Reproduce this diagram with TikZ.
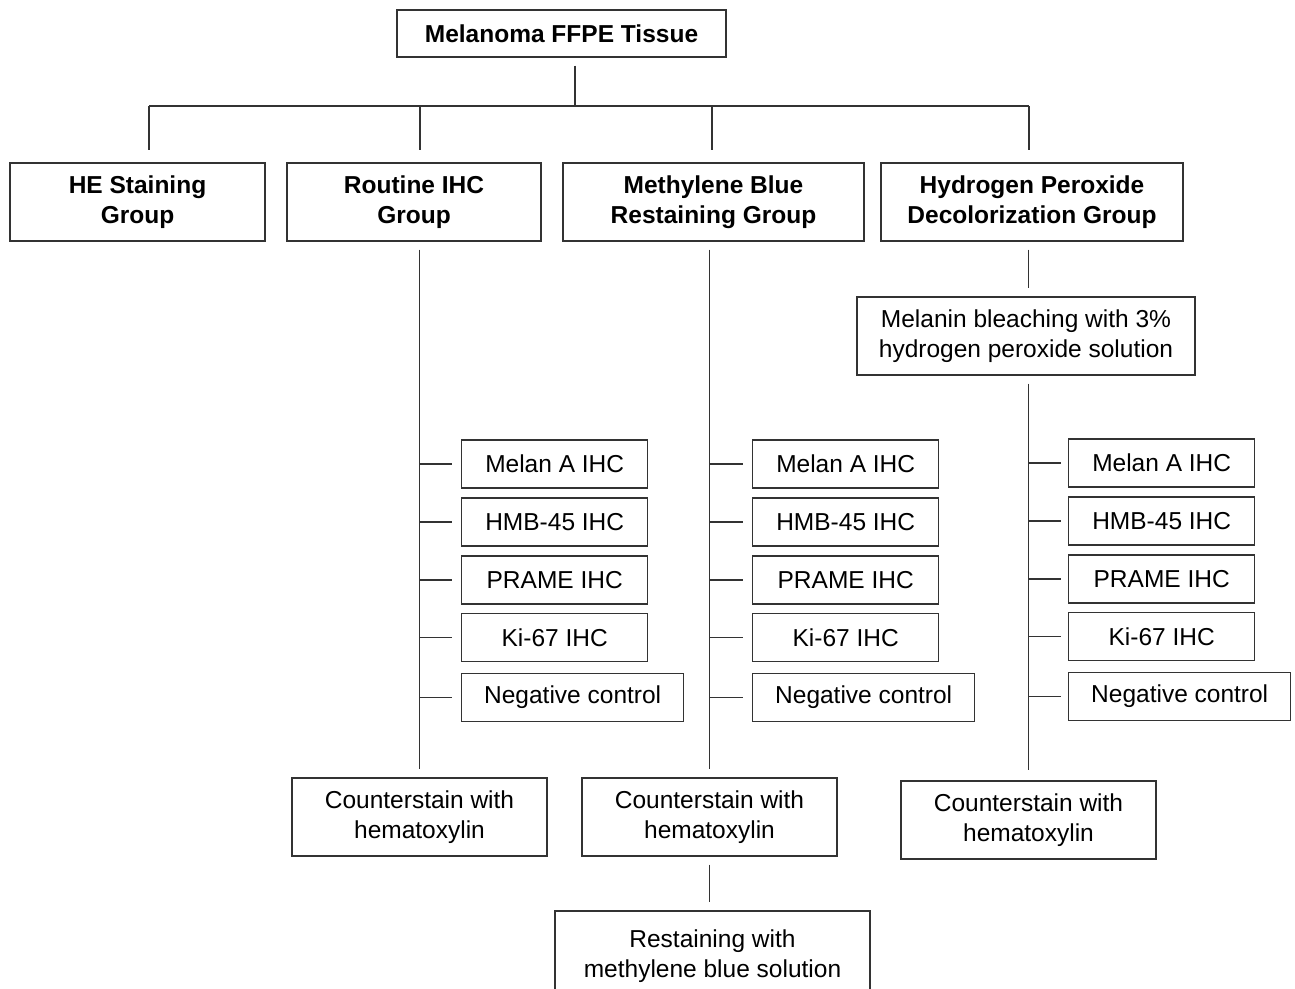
\documentclass[tikz,border=0pt]{standalone}
\usepackage{fontspec}
\setmainfont{Liberation Sans}
\usetikzlibrary{positioning}
\definecolor{ink}{HTML}{333333}
\tikzset{
  box/.style={draw=ink, line width=1.4pt, align=center, inner sep=0pt,
    font=\fontsize{24.5}{30}\selectfont},
  groupbox/.style={box, minimum height=78pt, font=\fontsize{24.5}{30}\selectfont\bfseries},
  stepbox/.style={box, minimum height=78pt},
  testbox/.style={box, anchor=west, minimum width=186pt, minimum height=48pt},
  link/.style={draw=ink, line width=1.4pt, shorten <=8pt, shorten >=8pt},
}
\begin{document}
\begin{tikzpicture}[x=1pt,y=-1pt]
    \useasboundingbox[fill=white] (0,0) rectangle (1295,988);
    % top level
    \node (tissue) [groupbox, minimum width=329pt, minimum height=47pt] at (561.5,33.5) {Melanoma FFPE Tissue};
    \node (he) [groupbox, minimum width=255pt] at (137.5,202) {HE Staining\\Group};
    \node (routine) [groupbox, minimum width=254pt] at (414,202) {Routine IHC\\Group};
    \node (methyl) [groupbox, minimum width=301pt] at (713.5,202) {Methylene Blue\\Restaining Group};
    \node (hydro) [groupbox, minimum width=302pt] at (1032,202) {Hydrogen Peroxide\\Decolorization Group};
    \coordinate (hub) at (575,106);
    \coordinate (drop1) at (149,106);
    \coordinate (drop2) at (420,106);
    \coordinate (drop3) at (712,106);
    \coordinate (drop4) at (1029,106);
    \draw[link, shorten >=0pt] (hub |- tissue.south) -- (hub);
    \draw[link, shorten <=0pt, shorten >=0pt] (drop1) -- (drop4);
    \draw[link, shorten <=0pt, shorten >=12pt] (drop1) -- (drop1 |- he.north);
    \draw[link, shorten <=0pt, shorten >=12pt] (drop2) -- (drop2 |- routine.north);
    \draw[link, shorten <=0pt, shorten >=12pt] (drop3) -- (drop3 |- methyl.north);
    \draw[link, shorten <=0pt, shorten >=12pt] (drop4) -- (drop4 |- hydro.north);
    % steps
    \node (bleach) [stepbox, minimum width=338pt] at (1026,336) {Melanin bleaching with 3\%\\hydrogen peroxide solution};
    \node (count1) [stepbox, minimum width=255pt] at (419.5,817) {Counterstain with\\hematoxylin};
    \node (count2) [stepbox, minimum width=255pt] at (709.5,817) {Counterstain with\\hematoxylin};
    \node (count3) [stepbox, minimum width=255pt] at (1028.5,820) {Counterstain with\\hematoxylin};
    \node (restain) [stepbox, minimum width=315pt, minimum height=90pt] at (712.5,956) {Restaining with\\methylene blue solution};
    % routine IHC column
    \node (melanA1) [testbox] at (461,464) {Melan A IHC};
    \node (hmb1) [testbox] at (461,522) {HMB-45 IHC};
    \node (prame1) [testbox] at (461,580) {PRAME IHC};
    \node (ki1) [testbox] at (461,637.5) {Ki-67 IHC};
    \node (neg1) [testbox, minimum width=222pt] at (461,697.5) {Negative control};
    % methylene blue column
    \node (melanA2) [testbox] at (752,464) {Melan A IHC};
    \node (hmb2) [testbox] at (752,522) {HMB-45 IHC};
    \node (prame2) [testbox] at (752,580) {PRAME IHC};
    \node (ki2) [testbox] at (752,637.5) {Ki-67 IHC};
    \node (neg2) [testbox, minimum width=222pt] at (752,697.5) {Negative control};
    % hydrogen peroxide column
    \node (melanA3) [testbox] at (1068,463) {Melan A IHC};
    \node (hmb3) [testbox] at (1068,521) {HMB-45 IHC};
    \node (prame3) [testbox] at (1068,579) {PRAME IHC};
    \node (ki3) [testbox] at (1068,636.5) {Ki-67 IHC};
    \node (neg3) [testbox, minimum width=222pt] at (1068,696.5) {Negative control};
    % spines
    \draw[link] (count1.north |- routine.south) -- (count1.north);
    \draw[link] (count2.north |- methyl.south) -- (count2.north);
    \draw[link] (count2.south) -- (count2.south |- restain.north);
    \draw[link] (hydro.south -| count3.north) -- (bleach.north -| count3.north);
    \draw[link, shorten >=10pt] (bleach.south -| count3.north) -- (count3.north);
    % ticks
    \draw[link, shorten <=0pt, shorten >=9pt] (count1.north |- melanA1.west) -- (melanA1.west);
    \draw[link, shorten <=0pt, shorten >=9pt] (count1.north |- hmb1.west) -- (hmb1.west);
    \draw[link, shorten <=0pt, shorten >=9pt] (count1.north |- prame1.west) -- (prame1.west);
    \draw[link, shorten <=0pt, shorten >=9pt] (count1.north |- ki1.west) -- (ki1.west);
    \draw[link, shorten <=0pt, shorten >=9pt] (count1.north |- neg1.west) -- (neg1.west);
    \draw[link, shorten <=0pt, shorten >=9pt] (count2.north |- melanA2.west) -- (melanA2.west);
    \draw[link, shorten <=0pt, shorten >=9pt] (count2.north |- hmb2.west) -- (hmb2.west);
    \draw[link, shorten <=0pt, shorten >=9pt] (count2.north |- prame2.west) -- (prame2.west);
    \draw[link, shorten <=0pt, shorten >=9pt] (count2.north |- ki2.west) -- (ki2.west);
    \draw[link, shorten <=0pt, shorten >=9pt] (count2.north |- neg2.west) -- (neg2.west);
    \draw[link, shorten <=0pt, shorten >=7pt] (count3.north |- melanA3.west) -- (melanA3.west);
    \draw[link, shorten <=0pt, shorten >=7pt] (count3.north |- hmb3.west) -- (hmb3.west);
    \draw[link, shorten <=0pt, shorten >=7pt] (count3.north |- prame3.west) -- (prame3.west);
    \draw[link, shorten <=0pt, shorten >=7pt] (count3.north |- ki3.west) -- (ki3.west);
    \draw[link, shorten <=0pt, shorten >=7pt] (count3.north |- neg3.west) -- (neg3.west);
\end{tikzpicture}
\end{document}
